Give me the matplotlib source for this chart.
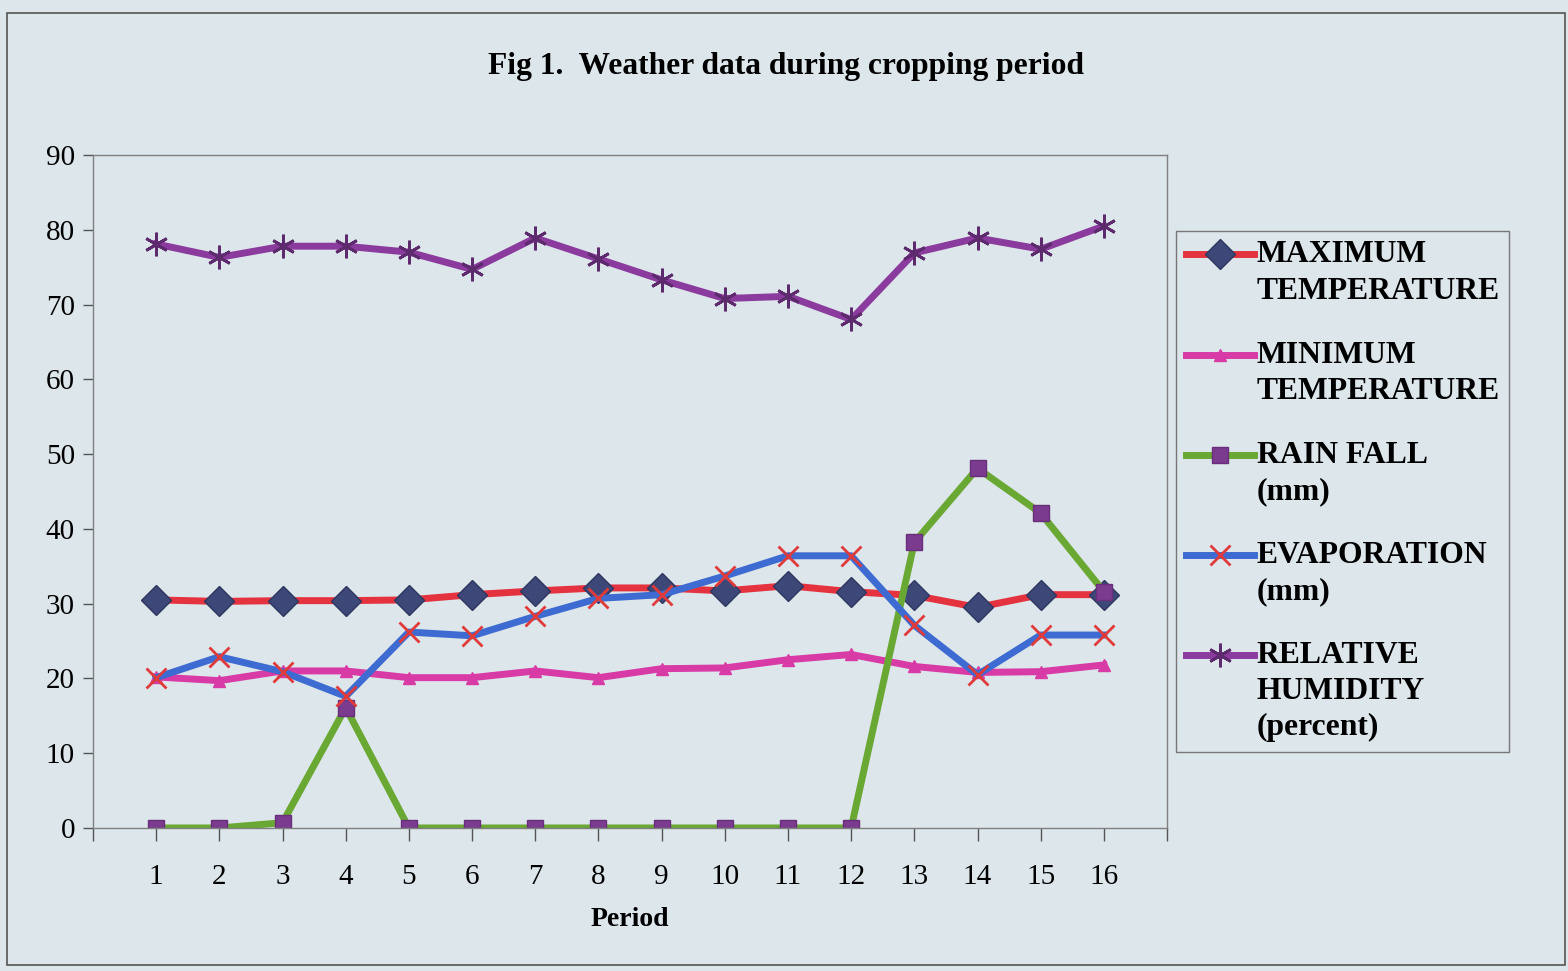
import numpy as np
import matplotlib
matplotlib.use("Agg")
import matplotlib.pyplot as plt
from matplotlib.legend_handler import HandlerLine2D
from matplotlib.patches import Rectangle

periods = list(range(1, 17))
max_temp = [30.5, 30.3, 30.4, 30.4, 30.5, 31.2, 31.7, 32.1, 32.1, 31.7, 32.4, 31.6, 31.1, 29.5, 31.2, 31.2]
min_temp = [20.2, 19.7, 21.0, 21.0, 20.1, 20.1, 21.0, 20.1, 21.3, 21.4, 22.5, 23.2, 21.6, 20.8, 20.9, 21.8]
rain_fall = [0.0, 0.0, 0.7, 16.1, 0.0, 0.0, 0.0, 0.0, 0.0, 0.0, 0.0, 0.0, 38.2, 48.1, 42.1, 31.6]
evaporation = [20.1, 22.9, 20.9, 17.6, 26.2, 25.7, 28.3, 30.7, 31.2, 33.7, 36.4, 36.4, 27.1, 20.5, 25.8, 25.8]
rel_humidity = [78.1, 76.3, 77.8, 77.8, 77.0, 74.7, 78.9, 76.1, 73.3, 70.8, 71.1, 68.0, 76.9, 78.9, 77.4, 80.5]

labels = ["MAXIMUM\nTEMPERATURE", "MINIMUM\nTEMPERATURE", "RAIN FALL\n(mm)",
          "EVAPORATION\n(mm)", "RELATIVE\nHUMIDITY\n(percent)"]

bg = "#dde6ea"
LINESP = 1.32
plt.rcParams['font.family'] = ['Liberation Serif', 'DejaVu Serif']

fig = plt.figure(figsize=(15.68, 9.71), dpi=100, facecolor=bg)
ax = fig.add_axes([0.0593, 0.1473, 0.685, 0.6931], facecolor=bg)

# scanned page border
fig.patches.append(Rectangle((7 / 1568, 6 / 971), 1558 / 1568, 952 / 971, transform=fig.transFigure,
                             fill=False, edgecolor="#555555", lw=1.2))

l1, = ax.plot(periods, max_temp, color="#e5323f", lw=5, marker="D", ms=15,
              mfc="#3d4878", mec="#2e3760", mew=1, label=labels[0])
l2, = ax.plot(periods, min_temp, color="#d83aa6", lw=5, marker="^", ms=9,
              mfc="#d83aa6", mec="#d83aa6", label=labels[1])
l3, = ax.plot(periods, rain_fall, color="#6aa834", lw=5, marker="s", ms=11,
              mfc="#7b3b8f", mec="#6a2f7c", mew=1, label=labels[2])
l4, = ax.plot(periods, evaporation, color="#3d6bd1", lw=5, marker="x", ms=15,
              mec="#e03a3a", mew=2, label=labels[3])
l5, = ax.plot(periods, rel_humidity, color="#8b3a9e", lw=5, marker=(6, 2, 0), ms=17,
              mec="#5e2a6e", mew=2, label=labels[4])

ax.set_xlim(0, 17)
ax.set_ylim(0, 90)
ax.set_yticks(range(0, 91, 10))
ax.set_xticks(range(0, 18))
ax.set_xticklabels([""] + [str(p) for p in periods] + [""])
for s in ax.spines.values():
    s.set_color("#808080")
    s.set_linewidth(1)
ax.tick_params(axis="y", direction="out", length=7, width=1, color="#555555", pad=6, labelsize=21)
ax.tick_params(axis="x", direction="out", length=9, width=1, color="#555555", pad=17, labelsize=21)
ax.set_xlabel("Period", fontsize=20, fontweight="bold", labelpad=12)

fig.text(0.5015, 0.931, "Fig 1.  Weather data during cropping period", ha="center", va="center",
         fontsize=22.7, fontweight="bold")


class FirstLineHandler(HandlerLine2D):
    # put the legend key level with the first line of a multi-line label
    def __init__(self, nlines, **kw):
        super().__init__(**kw)
        self.nlines = nlines

    def create_artists(self, legend, orig_handle, xdescent, ydescent, width, height, fontsize, trans):
        arts = super().create_artists(legend, orig_handle, xdescent, ydescent, width, height, fontsize, trans)
        shift = (self.nlines - 1) * 0.5 * LINESP * 0.89 * fontsize
        for a in arts:
            a.set_ydata(np.asarray(a.get_ydata(), dtype=float) + shift)
        return arts


handles = [l1, l2, l3, l4, l5]
hmap = {h: FirstLineHandler(lab.count("\n") + 1) for h, lab in zip(handles, labels)}
leg = fig.legend(handles, labels, handler_map=hmap, loc="upper left",
                 bbox_to_anchor=(1176 / 1568, 1 - 231 / 971),
                 prop={"weight": "bold", "size": 22.8}, frameon=True, fancybox=False,
                 edgecolor="#777777", facecolor=bg, framealpha=1, handlelength=2.15,
                 handletextpad=0.1, labelspacing=1.11, borderpad=0.3, borderaxespad=0)
for t in leg.get_texts():
    t.set_linespacing(LINESP)
leg.get_frame().set_linewidth(1)

fig.savefig("out.png", dpi=100, facecolor=bg)
